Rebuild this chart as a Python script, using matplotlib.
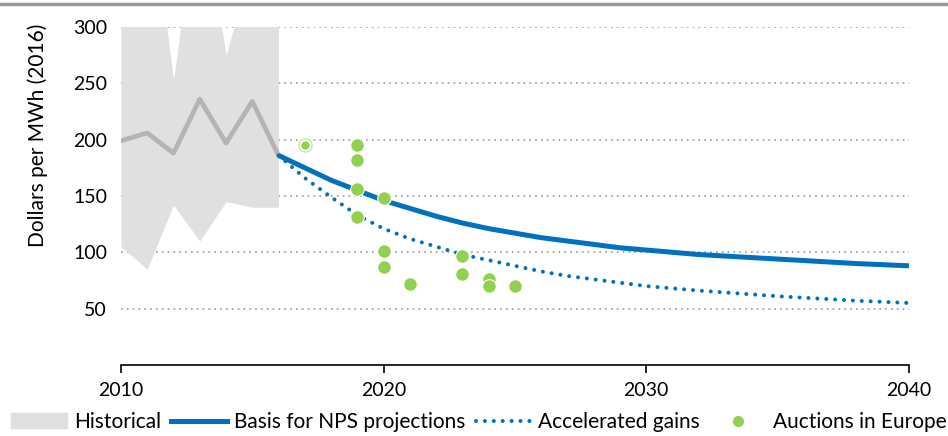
import numpy as np
import matplotlib.pyplot as plt
from matplotlib.lines import Line2D
from matplotlib.patches import Patch

plt.rcParams['font.family'] = ['Lato', 'DejaVu Sans']

# historical range and average
hist_years = [2010, 2011, 2012, 2013, 2014, 2015, 2016]
hist_low = [105, 85, 142, 110, 145, 140, 140]
hist_high = [400, 440, 253, 422, 275, 358, 360]
hist_avg = [199, 206, 188, 236, 197, 234, 186]

# projections
proj_years = [2016, 2017, 2018, 2019, 2020, 2021, 2022, 2023, 2024, 2025, 2026,
              2027, 2028, 2029, 2030, 2032, 2035, 2038, 2040]
basis = [186, 175, 164, 155, 146, 139, 132, 126, 121, 117, 113,
         110, 107, 104, 102, 98, 94, 90, 88]
accel = [186, 166, 149, 133, 121, 112, 105, 98, 93, 88, 83,
         79, 76, 73, 70, 66, 61, 57, 55]

# auction results in Europe
auc_years = [2019, 2019, 2019, 2019, 2020, 2020, 2020, 2021, 2023, 2023, 2024, 2024, 2025]
auc_vals = [195, 182, 156, 131, 148, 101, 87, 72, 97, 81, 76, 70, 70]
small_year, small_val = [2017], [195]

blue = '#0070C0'
green = '#92D050'
dots = (0, (0.01, 2.2))

fig = plt.figure(figsize=(9.48, 4.36), dpi=100)
ax = fig.add_axes([0.1276, 0.163, 0.8312, 0.775])

ax.fill_between(hist_years, hist_low, hist_high, color='#E0E0E0', lw=0, zorder=1)
ax.plot(hist_years, hist_avg, color='#B4B4B4', lw=3.4, zorder=2)
ax.plot(proj_years, basis, color=blue, lw=3.6, zorder=3, solid_capstyle='butt')
ax.plot(proj_years, accel, color=blue, lw=2.9, ls=dots,
        dash_capstyle='round', zorder=3)
ax.plot(auc_years, auc_vals, 'o', color=green, ms=9.8, mec='white', mew=0.8, zorder=4)
ax.plot(small_year, small_val, 'o', color=green, ms=9.5, mfc='white', mec='#C8E6A8',
        mew=1, zorder=4)
ax.plot(small_year, small_val, 'o', color=green, ms=6, mew=0, zorder=5)

ax.set_xlim(2010, 2040)
ax.set_ylim(0, 300)
ax.set_xticks([2010, 2020, 2030, 2040])
ax.set_yticks([50, 100, 150, 200, 250, 300])
ax.yaxis.grid(True, color='#999999', ls=(0, (1, 2.5)), lw=1.2)
ax.set_axisbelow(True)
for s in ['left', 'right', 'top']:
    ax.spines[s].set_visible(False)
ax.spines['bottom'].set_color('black')
ax.spines['bottom'].set_linewidth(1.2)
ax.tick_params(axis='y', length=0, labelsize=14, pad=10)
ax.tick_params(axis='x', length=6, width=1.2, labelsize=14, pad=6)
ax.set_ylabel('Dollars per MWh (2016)', fontsize=15)
ax.yaxis.set_label_coords(-0.092, 0.68)

# gray rule at the top
fig.add_artist(Line2D([0, 1], [0.99, 0.99], color='#999999', lw=2.5,
                      transform=fig.transFigure))

handles = [
    Patch(color='#E0E0E0'),
    Line2D([], [], color=blue, lw=3.6),
    Line2D([], [], color=blue, lw=2.9, ls=dots, dash_capstyle='round'),
    Line2D([], [], marker='o', color=green, ls='none', ms=7),
]
labels = ['Historical', 'Basis for NPS projections', 'Accelerated gains', 'Auctions in Europe']
fig.legend(handles, labels, loc='center', bbox_to_anchor=(0.505, 0.032), ncol=4,
           frameon=False, fontsize=15, handlelength=2.7, handletextpad=0.3,
           columnspacing=0.5)

fig.savefig('out.png', dpi=100)
